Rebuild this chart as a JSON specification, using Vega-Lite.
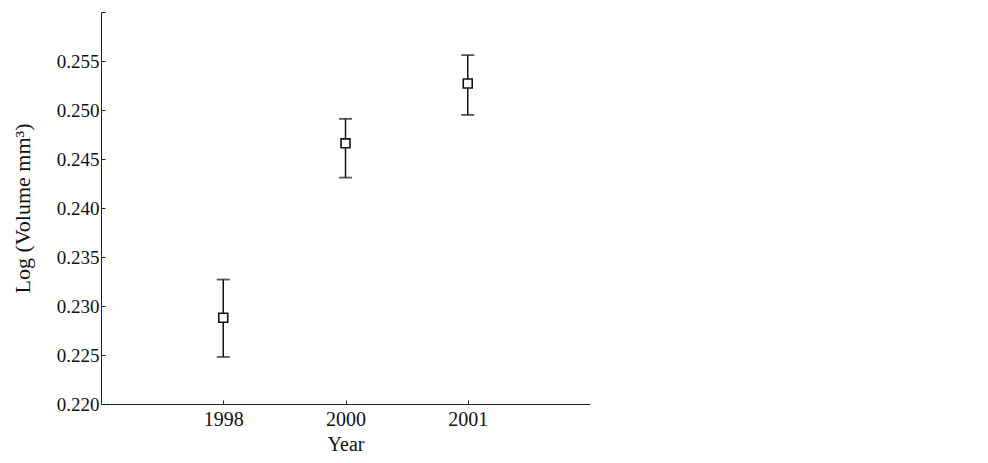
{
  "$schema": "https://vega.github.io/schema/vega-lite/v6.json",
  "autosize": "none",
  "width": 489,
  "height": 392,
  "padding": {"left": 101, "top": 12, "right": 398, "bottom": 59},
  "background": "white",
  "config": {
    "view": {"stroke": null},
    "font": "Liberation Serif",
    "axis": {
      "domainColor": "#222",
      "tickColor": "#222",
      "labelColor": "#111",
      "titleColor": "#111",
      "labelFont": "Liberation Serif",
      "titleFont": "Liberation Serif",
      "titleFontWeight": "normal",
      "grid": false
    }
  },
  "data": {
    "values": [
      {"year": "1998", "mean": 0.2288, "lower": 0.2248, "upper": 0.2327},
      {"year": "2000", "mean": 0.2466, "lower": 0.2431, "upper": 0.2491},
      {"year": "2001", "mean": 0.2527, "lower": 0.2495, "upper": 0.2556}
    ]
  },
  "encoding": {
    "x": {
      "field": "year",
      "type": "ordinal",
      "scale": {"type": "point", "padding": 1},
      "axis": {
        "title": "Year",
        "labelAngle": 0,
        "labelFontSize": 20,
        "titleFontSize": 20,
        "tickSize": -4,
        "labelPadding": 9,
        "titlePadding": 5
      }
    }
  },
  "layer": [
    {
      "mark": {"type": "rule", "color": "#111", "strokeWidth": 1.5},
      "encoding": {
        "y": {
          "field": "lower",
          "type": "quantitative",
          "scale": {"domain": [0.22, 0.26], "nice": false, "zero": false},
          "axis": {
            "title": "Log (Volume mm³)",
            "titleFontSize": 22,
            "labelFontSize": 19,
            "values": [0.22, 0.225, 0.23, 0.235, 0.24, 0.245, 0.25, 0.255, 0.26],
            "labelExpr": "datum.value > 0.2575 ? '' : format(datum.value, '.3f')",
            "tickSize": -4,
            "labelPadding": 6,
            "titlePadding": 22
          }
        },
        "y2": {"field": "upper"}
      }
    },
    {
      "mark": {"type": "tick", "color": "#111", "thickness": 1.8, "size": 13, "orient": "horizontal"},
      "encoding": {"y": {"field": "upper", "type": "quantitative"}}
    },
    {
      "mark": {"type": "tick", "color": "#111", "thickness": 1.8, "size": 13, "orient": "horizontal"},
      "encoding": {"y": {"field": "lower", "type": "quantitative"}}
    },
    {
      "mark": {"type": "square", "filled": true, "fill": "white", "stroke": "#111", "strokeWidth": 1.6, "size": 80, "opacity": 1},
      "encoding": {"y": {"field": "mean", "type": "quantitative"}}
    }
  ]
}
